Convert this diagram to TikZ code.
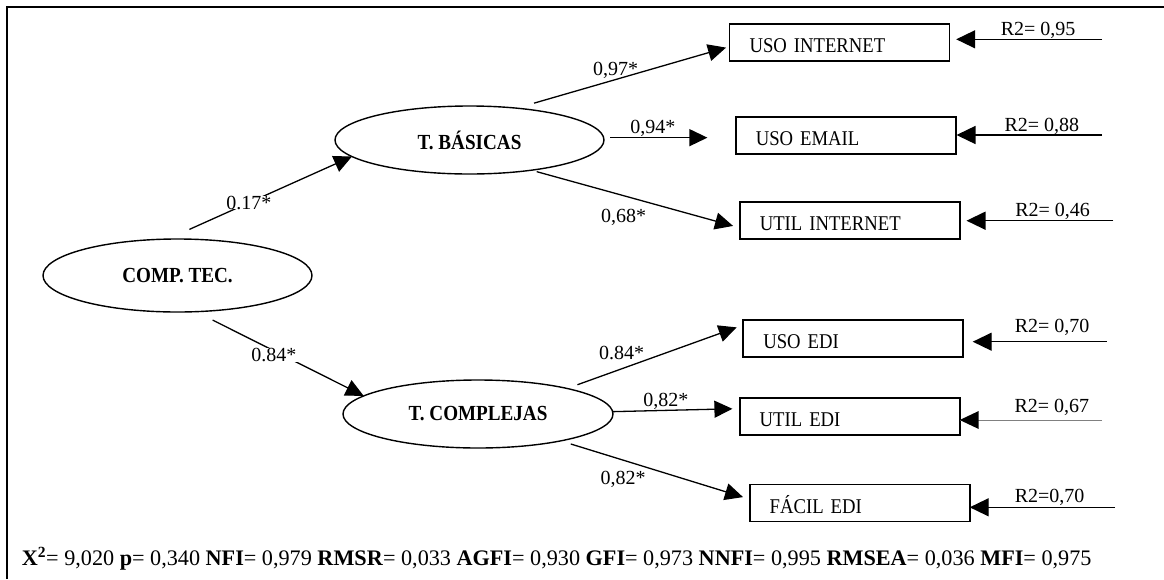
\documentclass[tikz,border=0pt]{standalone}
\usepackage{fontspec}
\setmainfont{Liberation Serif}
\newfontfamily\condfont{Liberation Serif}[FakeStretch=0.89]
\usetikzlibrary{arrows.meta,shapes.geometric}

\tikzset{
    latent/.style={ellipse, draw, line width=1.4pt, minimum width=269pt, minimum height=68pt,
        inner sep=0pt, outer sep=0pt, font=\condfont\fontsize{21.5}{24}\selectfont\bfseries},
    obsbox/.style={rectangle, draw, line width=1.8pt, minimum height=37pt, text width=180pt,
        inner xsep=20pt, inner ysep=0pt, align=left, text height=20pt, text depth=0pt,
        outer sep=0pt, font=\condfont\fontsize{21}{24}\selectfont},
    loadarrow/.style={line width=1.3pt, -{Triangle[length=18pt,width=17pt]}},
    residarrow/.style={line width=1.4pt, -{Triangle[length=19pt,width=18pt]}},
    coef/.style={inner sep=0pt, font=\fontsize{20}{24}\selectfont},
    rtwo/.style={inner sep=0pt, font=\fontsize{20}{24}\selectfont},
}

\begin{document}
\begin{tikzpicture}[x=1pt, y=-1pt]
    \useasboundingbox (0,0) rectangle (1164,579);

    % 1. Frame (only top and left edges show)
    \draw[line width=2pt] (6.7,579) -- (6.7,6.7) -- (1164,6.7);

    % 2. Latent variables (ellipses)
    \node[latent, minimum height=73pt] (ctec) at (177.5,275.5) {COMP. TEC.};
    \node[latent] (tbas) at (469.5,140) {T. BÁSICAS};
    \node[latent, minimum width=270pt] (tcom) at (478,414) {T. COMPLEJAS};

    % 3. Observed variables (boxes)
    \node[obsbox] (uint)  at (839.5,42.75) {USO INTERNET};
    \node[obsbox] (umail) at (845.8,135.3) {USO EMAIL};
    \node[obsbox] (uti)   at (849.8,220.1) {UTIL INTERNET};
    \node[obsbox] (uedi)  at (853.3,338.5) {USO EDI};
    \node[obsbox] (utedi) at (849.7,416.3) {UTIL EDI};
    \node[obsbox] (fedi)  at (859.7,503)   {FÁCIL EDI};

    % 4. Free ends of the R2 arrows
    \coordinate (r1) at (1102,39.3);    % USO INTERNET
    \coordinate (r2) at (1102,135);     % USO EMAIL
    \coordinate (r3) at (1113.3,220.7); % UTIL INTERNET
    \coordinate (r4) at (1106.7,341.7); % USO EDI
    \coordinate (r5) at (1102,420);     % UTIL EDI
    \coordinate (r6) at (1115,507.3);   % FACIL EDI

    % 5. Second order loadings
    \draw[loadarrow, shorten <=23.7pt] (ctec.105.4) --
        node[coef, fill=white, inner xsep=3pt, pos=0.441] {0.17*} (tbas.188.5);
    \draw[loadarrow, shorten <=18.7pt] (ctec.297.9) --
        node[coef, fill=white, inner xsep=3pt, yshift=-4pt, pos=0.465] {0.84*} (tcom.171);

    % 6. First order loadings
    \draw[loadarrow, shorten <=18.1pt, shorten >=3.6pt] (tbas.34.1) --
        node[coef, above, pos=0.465] {0,97*} (uint.182.4);
    \draw[loadarrow, shorten <=6.4pt, shorten >=28.4pt] (tbas.1.85) --
        node[coef, above, pos=0.373] {0,94*} (tbas.1.85 -| umail.west);
    \draw[loadarrow, shorten <=5.5pt, shorten >=7pt] (tbas.334.2) --
        node[coef, below=13pt, pos=0.442] {0,68*} (uti.184.4);
    \draw[loadarrow, shorten <=11pt, shorten >=7pt] (tcom.16.8) --
        node[coef, above=8.7pt, pos=0.31] {0.84*} (uedi.173.5);
    \draw[loadarrow, shorten >=7.3pt] (tcom.1.7) --
        node[coef, above, pos=0.418] {0,82*} (utedi.176.7);
    \draw[loadarrow, shorten <=10.5pt, shorten >=7pt] (tcom.342.3) --
        node[coef, below=10pt, pos=0.33] {0,82*} (fedi.178.1);

    % 7. R2 arrows
    \foreach \r/\b/\g/\p/\a/\t in {r1/uint/6.7/0.419/0/{R2= 0,95},
                                   r2/umail/0.7/0.411/0/{R2= 0,88},
                                   r3/uti/6.7/0.395/0/{R2= 0,46},
                                   r4/uedi/9.4/0.381/5.7/{R2= 0,70},
                                   r6/fedi/0/0.45/1/{R2=0,70}}
        \draw[residarrow, shorten >=\g pt] (\r) --
            node[rtwo, above=\a pt, pos=\p] {\t} (\r -| \b.east);
    \draw[line width=0.5pt, draw=gray] (r5) -- node[rtwo, above=4.5pt, pos=0.352] {R2= 0,67} (r5 -| utedi.east);
    \fill ([xshift=19pt,yshift=9pt]r5 -| utedi.east) -- (r5 -| utedi.east) -- ([xshift=19pt,yshift=-9pt]r5 -| utedi.east) -- cycle;

    % 8. Fit indices
    \node[anchor=base west, inner sep=0pt, font=\fontsize{22.2}{26}\selectfont] (fit) at (21.7,565)
        {\textbf{X\textsuperscript{2}}= 9,020 \textbf{p}= 0,340 \textbf{NFI}= 0,979 \textbf{RMSR}= 0,033 \textbf{AGFI}= 0,930 \textbf{GFI}= 0,973 \textbf{NNFI}= 0,995 \textbf{RMSEA}= 0,036 \textbf{MFI}= 0,975};

\end{tikzpicture}
\end{document}
